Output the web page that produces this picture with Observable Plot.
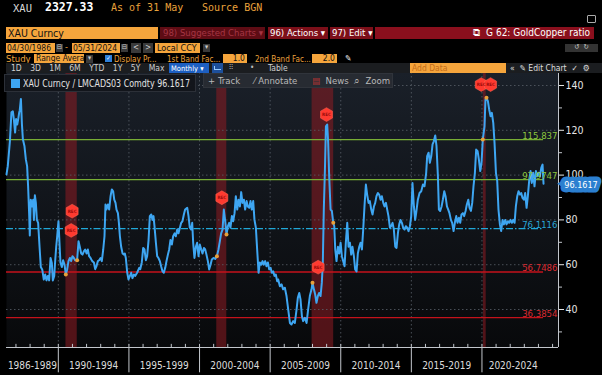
<!DOCTYPE html>
<html>
<head>
<meta charset="utf-8">
<script src="https://cdn.jsdelivr.net/npm/d3@7"></script>
<script src="https://cdn.jsdelivr.net/npm/@observablehq/plot@0.6"></script>
<style>
html,body{margin:0;padding:0;background:#000;}
#wrap{position:relative;width:602px;height:375px;overflow:hidden;background:#000;font-family:"DejaVu Sans Condensed","Liberation Sans Narrow","Arial Narrow",sans-serif;}
#chart{position:absolute;left:0;top:0;}
.h{position:absolute;white-space:nowrap;line-height:1;box-sizing:border-box;}
.mono{font-family:"DejaVu Sans Mono","Liberation Mono",monospace;}
.ob{background:#f5a53c;color:#111;}
.gb{background:#3a3a3a;color:#ccc;text-align:center;}
.rb{background:#7c0f19;color:#fff;}
.sx{transform-origin:0 0;}
</style>
</head>
<body>
<div id="wrap">
  <div id="chart"></div>

  <!-- header row 1 -->
  <div class="h mono" style="left:13px;top:3px;color:#d8d8d8;font-size:10.5px">XAU</div>
  <div class="h mono" style="left:45px;top:2px;color:#fff;font-size:11.5px;font-weight:bold">2327.33</div>
  <div class="h mono" style="left:111px;top:3px;font-size:10px;color:#e9a23b">As of 31 May</div>
  <div class="h mono" style="left:202px;top:3px;font-size:10px;color:#e9a23b">Source BGN</div>
  <div class="h" style="left:587px;top:15px;width:9px;height:8px;border:1px solid #aaa;border-radius:1px"></div>

  <!-- header row 2 -->
  <div class="h ob" style="left:6px;top:27px;width:152px;height:12px;font-size:10.5px;padding:1px 0 0 2px">XAU Curncy</div>
  <div class="h" style="left:160px;top:27px;width:105px;height:12px;background:#5e0c14;color:#a53543;font-size:9.5px;padding:1px 0 0 3px">98) Suggested Charts ▾</div>
  <div class="h rb" style="left:268px;top:27px;width:60px;height:12px;font-size:9.5px;padding:1px 0 0 2px">96) Actions ▾</div>
  <div class="h rb" style="left:330px;top:27px;width:43px;height:12px;font-size:9.5px;padding:1px 0 0 2px">97) Edit ▾</div>
  <div class="h rb" style="left:375px;top:27px;width:219px;height:12px;font-size:10px;padding:1px 4px 0 0;text-align:right;background:#8a0f1d"><span style="margin-right:6px">⧉</span>G 62: GoldCopper ratio</div>

  <!-- header row 3 -->
  <div class="h ob" style="left:6px;top:43px;width:49px;height:10px;font-size:8.5px;padding:1px 0 0 1px">04/30/1986</div>
  <div class="h gb" style="left:56px;top:44px;width:7px;height:8px;font-size:7px">⊟</div>
  <div class="h" style="left:65px;top:43px;color:#eba23c;font-size:9px">-</div>
  <div class="h ob" style="left:72px;top:43px;width:48px;height:10px;font-size:8.5px;padding:1px 0 0 1px">05/31/2024</div>
  <div class="h gb" style="left:121px;top:44px;width:7px;height:8px;font-size:7px">⊟</div>
  <div class="h gb" style="left:131px;top:43px;width:10px;height:10px;font-size:8px;padding-top:1px">&lt;</div>
  <div class="h gb" style="left:143px;top:43px;width:10px;height:10px;font-size:8px;padding-top:1px">&gt;</div>
  <div class="h ob" style="left:155px;top:43px;width:45px;height:10px;font-size:9px;padding:1px 0 0 2px">Local CCY</div>
  <div class="h gb" style="left:203px;top:44px;width:7px;height:8px;font-size:7px">▾</div>
  <div class="h gb" style="left:565px;top:44px;width:33px;height:8px;font-size:7px;background:#333">↺ &nbsp;↻</div>

  <!-- header row 4 -->
  <div class="h" style="left:6px;top:54px;color:#eba23c;font-size:9.5px">Study</div>
  <div class="h ob" style="left:34px;top:54px;width:50px;height:9px;font-size:8.5px;padding:0 0 0 2px">Range Avera</div>
  <div class="h gb" style="left:86px;top:55px;width:7px;height:8px;font-size:7px">▾</div>
  <div class="h" style="left:105px;top:55px;width:7px;height:7px;background:#2f7fd8;color:#fff;font-size:6px;text-align:center">✓</div>
  <div class="h sx" style="left:114px;top:54px;color:#eba23c;font-size:9.5px;transform:scaleX(0.85)">Display Pr...</div>
  <div class="h sx" style="left:167px;top:54px;color:#eba23c;font-size:9.5px;transform:scaleX(0.85)">1st Band Fac...</div>
  <div class="h ob" style="left:223px;top:54px;width:24px;height:9px;font-size:8.5px;text-align:right;padding-right:2px">1.0</div>
  <div class="h sx" style="left:255px;top:54px;color:#eba23c;font-size:9.5px;transform:scaleX(0.85)">2nd Band Fac...</div>
  <div class="h ob" style="left:312px;top:54px;width:25px;height:9px;font-size:8.5px;text-align:right;padding-right:2px">2.0</div>
  <div class="h" style="left:345px;top:54px;color:#eee;font-size:8.5px">✎</div>

  <!-- header row 5 -->
  <div class="h" style="left:6px;top:63px;width:596px;height:10px;background:#1b1d20"></div>
  <div class="h" style="left:11px;top:64px;color:#cfcfcf;font-size:8.5px;word-spacing:6px">1D 3D 1M 6M YTD 1Y 5Y Max</div>
  <div class="h" style="left:169px;top:63px;width:40px;height:10px;background:#1d5fc2;color:#fff;font-size:7.5px;padding:1.5px 0 0 2px">Monthly ▾</div>
  <div class="h" style="left:212px;top:63px;width:11px;height:10px;background:#1d4f9a"></div>
  <div class="h" style="left:214px;top:66px;width:7px;height:4px;border-left:1px solid #9cf;border-bottom:1px solid #9cf"></div>
  <div class="h" style="left:229px;top:64px;color:#bbb;font-size:8px">⫶⫶</div>
  <div class="h" style="left:250px;top:64px;color:#bbb;font-size:8px">•</div>
  <div class="h" style="left:268px;top:64px;color:#cfcfcf;font-size:8.5px">Table</div>
  <div class="h ob" style="left:410px;top:63px;width:96px;height:10px;font-size:8.5px;color:#c46d1a;padding:1px 0 0 2px">Add Data</div>
  <div class="h" style="left:510px;top:64px;color:#ddd;font-size:8.5px">«&nbsp; ✎ Edit Chart &nbsp;✓ &nbsp;⚙</div>

  <!-- legend and toolbar over the plot -->
  <div class="h" style="left:4px;top:74px;width:192px;height:18px;background:rgba(18,21,27,0.96);border:1px solid #2c3038"></div>
  <div class="h" style="left:11px;top:79px;width:9px;height:9px;background:#3ea6f2"></div>
  <div class="h sx" style="left:23px;top:78px;color:#e2e2e2;font-size:10.5px;transform:scaleX(0.84)">XAU Curncy / LMCADS03 Comdty 96.1617</div>
  <div class="h" style="left:203px;top:73px;width:190px;height:15px;background:#272b32;border:1px solid #30343b"></div>
  <div class="h" style="left:208px;top:76px;color:#b9b9b9;font-size:9.5px">+ Track</div>
  <div class="h" style="left:254px;top:76px;color:#b9b9b9;font-size:9.5px">⁄ Annotate</div>
  <div class="h" style="left:312px;top:76px;color:#b9b9b9;font-size:9.5px"><span style="color:#a33">▤</span>&nbsp; News</div>
  <div class="h" style="left:354px;top:76px;color:#b9b9b9;font-size:9.5px">⌕&nbsp; Zoom</div>
</div>

<script>
// ---- data ----
const years = [
1986.33,1986.42,1986.57,1986.68,1986.78,1986.85,1986.94,1987.01,1987.09,1987.16,1987.23,1987.27,1987.35,1987.42,1987.49,1987.60,1987.70,1987.79,1987.86,1987.94,1987.98,
1988.05,1988.15,1988.22,1988.27,1988.34,1988.41,1988.48,1988.57,1988.67,1988.76,1988.86,1988.97,1989.07,1989.16,1989.26,1989.35,1989.45,1989.54,1989.61,1989.71,1989.78,1989.85,1989.92,
1990.01,1990.08,1990.15,1990.25,1990.34,1990.44,1990.53,1990.63,1990.72,1990.82,1990.91,1991.00,1991.10,1991.19,1991.33,1991.43,1991.52,1991.62,1991.71,1991.81,1991.90,
1992.00,1992.09,1992.18,1992.28,1992.40,1992.52,1992.61,1992.70,1992.80,1992.89,1992.99,1993.08,1993.18,1993.27,1993.34,1993.41,1993.51,1993.60,1993.70,1993.79,1993.88,1993.96,
1994.05,1994.12,1994.22,1994.29,1994.36,1994.45,1994.55,1994.64,1994.71,1994.78,1994.88,1994.97,1995.07,1995.16,1995.25,1995.35,1995.44,1995.58,1995.73,
1995.80,1995.91,1996.01,1996.10,1996.20,1996.29,1996.39,1996.48,1996.58,1996.67,1996.74,1996.81,1996.91,1997.00,1997.09,1997.19,1997.28,1997.38,1997.47,1997.57,1997.66,1997.76,1997.85,1997.94,
1998.04,1998.13,1998.23,1998.32,1998.42,1998.51,1998.61,1998.70,1998.79,1998.89,1998.98,1999.13,1999.22,1999.31,1999.41,1999.48,1999.55,1999.64,1999.74,1999.83,1999.93,
2000.02,2000.12,2000.21,2000.31,2000.40,2000.49,2000.59,2000.68,2000.78,2000.87,2000.99,2001.11,2001.23,2001.34,2001.44,2001.53,2001.63,2001.72,2001.82,2001.91,
2002.01,2002.10,2002.19,2002.29,2002.38,2002.48,2002.57,2002.67,2002.76,2002.86,2002.95,2003.04,2003.14,2003.23,2003.33,2003.42,2003.52,2003.61,2003.70,2003.80,2003.89,2003.99,
2004.08,2004.18,2004.27,2004.37,2004.46,2004.55,2004.65,2004.74,2004.84,2004.93,2005.03,2005.12,2005.22,2005.31,2005.40,2005.50,
2005.57,2005.69,2005.81,2005.92,2006.04,2006.16,2006.28,2006.40,2006.51,2006.63,2006.75,2006.87,2006.96,2007.06,2007.15,2007.25,2007.34,2007.46,2007.58,2007.69,2007.81,2007.93,
2008.00,2008.10,2008.19,2008.28,2008.38,2008.47,2008.57,2008.66,2008.73,2008.80,2008.88,2008.95,2009.04,2009.11,2009.18,2009.28,2009.37,2009.47,2009.54,2009.61,2009.70,2009.80,2009.89,2009.99,
2010.08,2010.17,2010.27,2010.36,2010.46,2010.55,2010.65,2010.74,2010.83,2010.93,2011.02,2011.12,2011.21,2011.31,2011.40,2011.50,2011.59,2011.68,2011.78,2011.87,2011.97,
2012.06,2012.16,2012.25,2012.35,2012.44,2012.53,2012.63,2012.72,2012.82,2012.91,2013.01,2013.10,2013.20,2013.29,2013.38,2013.48,2013.57,2013.67,2013.76,2013.86,2013.95,
2014.05,2014.14,2014.23,2014.33,2014.42,2014.52,2014.61,2014.71,2014.80,2014.90,2014.99,2015.08,2015.18,2015.27,
2015.34,2015.46,2015.58,2015.70,2015.82,2015.93,2016.05,2016.12,2016.22,2016.31,2016.41,2016.50,2016.59,2016.69,2016.78,2016.88,2016.95,
2017.04,2017.14,2017.23,2017.33,2017.42,2017.52,2017.61,2017.70,2017.80,2017.89,2017.99,2018.08,2018.18,2018.27,2018.37,2018.46,2018.55,2018.65,2018.74,2018.84,2018.93,
2019.03,2019.12,2019.22,2019.31,2019.40,2019.50,2019.59,2019.69,2019.78,2019.88,2019.97,2020.06,2020.18,2020.25,2020.32,2020.42,2020.51,2020.61,2020.70,2020.80,2020.89,2020.99,
2021.08,2021.17,2021.27,2021.36,2021.46,2021.55,2021.65,2021.74,2021.84,2021.93,2022.02,2022.12,2022.21,2022.31,2022.40,2022.50,2022.59,2022.69,2022.78,2022.87,2022.97,
2023.06,2023.16,2023.25,2023.35,2023.44,2023.53,2023.63,2023.72,2023.82,2023.91,2024.01,2024.10,2024.20,2024.29,2024.36
];
const ratio = [
100.3,104,115,128,128.5,125,119,125,122.6,125,128,129,134,123,116,113,107,104,95,81.7,73,
89,86,89,80,91,87.6,80,78.7,68,59,57.9,53.4,55.6,53,55,53,63,60.8,53,55,62,68,72.7,
79.4,70,61,59,62,60,55.6,58,61.6,63,61.6,63.8,63,62,62,70.5,68,65,64.5,66,66.8,
65,66.8,63.8,63,61.6,61,58,59.3,61.6,62,63,61.6,66.8,72.7,86.9,84.6,86.9,84.6,90.6,93.6,92.8,89,
87.6,84.6,83,78.7,72.7,68,65,64.5,65,63,56.4,53.4,55,56.4,54,55.6,55,56.4,58.6,
58,61,67.5,66.8,62,63.8,71,81.7,82.4,80,81.7,77.2,69.8,63.8,63,61.6,59.3,57,56.4,58.6,61.6,64.5,66.8,71,
69,72.7,74,72.7,75.7,74,76.5,78.7,79.4,82.4,84.6,85.4,81.7,76.5,75.7,78.7,69.8,63,68,69.8,63.8,
69,66.8,65,67.5,66.8,64.5,61.6,57.9,60,62.3,63,62.6,63.8,66.8,70.5,74,75.7,84.6,79.4,73.5,
77.2,78.7,76.5,81.7,79.4,83,90.6,84.6,89,86,92.4,87.6,89,84.6,88.4,86,85.4,88.4,84.6,88.4,80,76.5,
66.8,56.4,61,60,61.6,60,61.6,59.3,61,57.9,58.6,56.4,57,55,55.6,52.6,
53.4,50.4,51.2,49,49.7,46,40,34,33.3,34.8,34,40,45.2,47.4,44.5,37,34.8,36.3,34,40,46,49,
52,49,46.7,43,46,47.4,46,52,60.8,84.6,102.5,121.8,122.6,114.4,99.5,84.6,84,78.7,77.2,66.8,61.6,68,65,69.8,
63.8,61.6,59.3,69.8,78.7,68,69.8,64.5,68,63.8,57.9,57,65,68,69.8,66.8,75.7,86,95.8,91.3,87.6,
88.4,84.6,82.4,86,87.6,90.6,92,91.3,89,90.6,87.6,86,87.6,84.6,81.7,76.5,77.2,78.7,75.7,68,67.5,
74.2,78,80,78.7,76.5,75.7,77.2,76.5,75,77.2,81.7,96.5,86,80,
83,89,92,92.8,95.8,95,101,108.5,110,105.5,108.5,113.7,115.1,117.7,113,99.5,84.6,
84,86,89,92.8,90.6,86,84.6,83,80,78.7,75,78.7,81.7,78.7,81,78.7,82.4,83,81.7,84,86.9,
89,85.4,84,87.6,95,101,111.4,110.7,107,101.8,105.5,115.9,121.8,133.8,134.5,133,129.3,126.3,127.8,123.3,114.4,101,
97.3,84.6,78,75,80,78,80,78,79.4,78.7,80,78.7,80,78.7,86,90.6,92.8,91.3,92,89.8,89,
92,85.4,90.6,98,101.8,96.5,101,95,101.8,99.5,101,99.5,103.2,104.7,96.1617
];

// range-average study levels
const levelValues = [115.837, 97.9747, 76.1116, 56.7486, 36.3854];
const levelLabels = ["115.837", "97.9747", "76.1116", "56.7486", "36.3854"];
const levelKinds  = ["green", "green", "avg", "red", "red"];

// recessions (shaded)
const recStart = [1990.54, 2001.22, 2007.97, 2020.10];
const recEnd   = [1991.34, 2001.93, 2009.50, 2020.30];
// "REC" event markers
const recMarkYear = [1990.98, 1990.91, 2001.58, 2008.40, 2008.99, 2019.95, 2020.61];
const recMarkVal  = [83.9, 75.3, 89.9, 58.9, 127.0, 140.4, 140.4];

// x-axis period labels
const periodLabels = ["1986-1989","1990-1994","1995-1999","2000-2004","2005-2009","2010-2014","2015-2019","2020-2024"];
const periodStart  = [1986.33, 1990, 1995, 2000, 2005, 2010, 2015, 2020];
const periodEnd    = [1990, 1995, 2000, 2005, 2010, 2015, 2020, 2024.42];
const separators   = [1990, 1995, 2000, 2005, 2010, 2015, 2020];
const yearTicks    = d3.range(1987, 2026);

const yTicks = [40, 60, 80, 100, 120, 140];
const yMinor = [30, 50, 70, 90, 110, 130];
const lastValue = 96.1617;

const xDomain = [1986.33, 2025.42];
const yDomain = [23.04, 145.8];

// ---- build tables ----
const series = years.map((y, i) => ({year: y, value: ratio[i]}));
const lastYear = years[years.length - 1];
const levelColor = {green: "#78ae35", avg: "#20a8d8", red: "#c4121b"};
const levelTextColor = {green: "#8dc63f", avg: "#2aa6d6", red: "#dc2a30"};
const levels = levelValues.map((v, i) => ({v, label: levelLabels[i], kind: levelKinds[i]}));
const recs = recStart.map((s, i) => ({s, e: recEnd[i]}));
const recEdges = [...recStart.slice(0, 3), ...recEnd.slice(0, 3), recStart[3], 2020.32]
  .map(t => d3.least(series, d => Math.abs(d.year - t)));
const recMarks = recMarkYear.map((y, i) => ({year: y, value: recMarkVal[i]}));
const periods = periodLabels.map((l, i) => ({label: l, mid: (periodStart[i] + periodEnd[i]) / 2}));

const defs = () => {
  const d = d3.create("svg:defs");
  const g = d.append("linearGradient").attr("id", "plotbg")
    .attr("x1", 0).attr("y1", 0).attr("x2", 0).attr("y2", 1);
  g.append("stop").attr("offset", "0%").attr("stop-color", "#1a2029");
  g.append("stop").attr("offset", "100%").attr("stop-color", "#08090b");
  return d.node();
};

const axisColor = "#c2c6cc";
const gridColor = "#596069";

const chart = Plot.plot({
  width: 602,
  height: 375,
  marginTop: 72,
  marginBottom: 28,
  marginLeft: 6,
  marginRight: 44,
  style: {background: "transparent", color: "#e2e2e2",
          fontFamily: "'DejaVu Sans Condensed','Liberation Sans Narrow','Arial Narrow',sans-serif"},
  x: {type: "linear", domain: xDomain, axis: null},
  y: {domain: yDomain, axis: null},
  marks: [
    defs,
    Plot.frame({fill: "url(#plotbg)", stroke: null}),
    Plot.rect(recs, {x1: "s", x2: "e", fill: "#8e1c22", fillOpacity: 0.55}),
    Plot.ruleY(yTicks, {stroke: gridColor, strokeDasharray: "1.5,2.5", strokeOpacity: 0.8}),
    Plot.ruleX(separators, {stroke: gridColor, strokeDasharray: "1.5,2.5", strokeOpacity: 0.8}),
    Plot.ruleY(levels.filter(d => d.kind !== "avg"), {y: "v", x1: xDomain[0], x2: lastYear,
      stroke: d => levelColor[d.kind], strokeWidth: 1.3}),
    Plot.ruleY(levels.filter(d => d.kind === "avg"), {y: "v", x1: xDomain[0], x2: lastYear,
      stroke: d => levelColor[d.kind], strokeWidth: 1.3, strokeDasharray: "7,2,1.5,2"}),
    Plot.line(series, {x: "year", y: "value", stroke: "#3ea6f2", strokeWidth: 2, strokeLinejoin: "round"}),
    Plot.dot(recEdges, {x: "year", y: "value", r: 2, fill: "#e8a03a", stroke: null}),
    Plot.text(levels, {x: xDomain[1], y: "v", text: "label", fill: d => levelTextColor[d.kind],
      textAnchor: "end", lineAnchor: "bottom", dx: -1, dy: -1, fontSize: 9.5}),
    Plot.dot(recMarks, {x: "year", y: "value", symbol: "hexagon", r: 6, fill: "#ff3a30", stroke: "#ff6a55", strokeWidth: 0.5}),
    Plot.text(recMarks, {x: "year", y: "value", text: () => "REC", fill: "#9a0a0a", fontSize: 4.5, fontWeight: "bold"}),
    // right axis
    Plot.ruleX([xDomain[1]], {stroke: axisColor, strokeWidth: 1}),
    Plot.axisY({anchor: "right", ticks: yTicks, tickSize: 5, tickPadding: 2, fontSize: 10.5,
      color: "#e6e6e6", tickFormat: d => d}),
    Plot.axisY({anchor: "right", ticks: yMinor, tickSize: 3, text: null, color: axisColor}),
    // bottom axis
    Plot.ruleY([yDomain[0]], {stroke: axisColor, strokeWidth: 1}),
    Plot.ruleX(yearTicks, {y1: yDomain[0], y2: yDomain[0] + 1.4, stroke: axisColor}),
    Plot.ruleX(separators, {y1: yDomain[0], y2: yDomain[0] - 11.3, stroke: axisColor}),
    Plot.text(periods, {x: "mid", y: yDomain[0], text: "label", dy: 18, fill: "#dcdcdc", fontSize: 10}),
    // last value tag
    Plot.dot([lastValue], {x: xDomain[1], y: d => d, symbol: "triangle", rotate: -90, r: 3.5,
      fill: "#2b7fd0", dx: 4}),
    Plot.text([lastValue], {x: xDomain[1], y: d => d, text: d => d.toFixed(4), dx: 22.5, dy: 1,
      fill: "#ffffff", stroke: "#2b7fd0", strokeWidth: 9, paintOrder: "stroke", strokeLinejoin: "round", fontSize: 9})
  ]
});

document.getElementById("chart").appendChild(chart);
</script>
</body>
</html>
